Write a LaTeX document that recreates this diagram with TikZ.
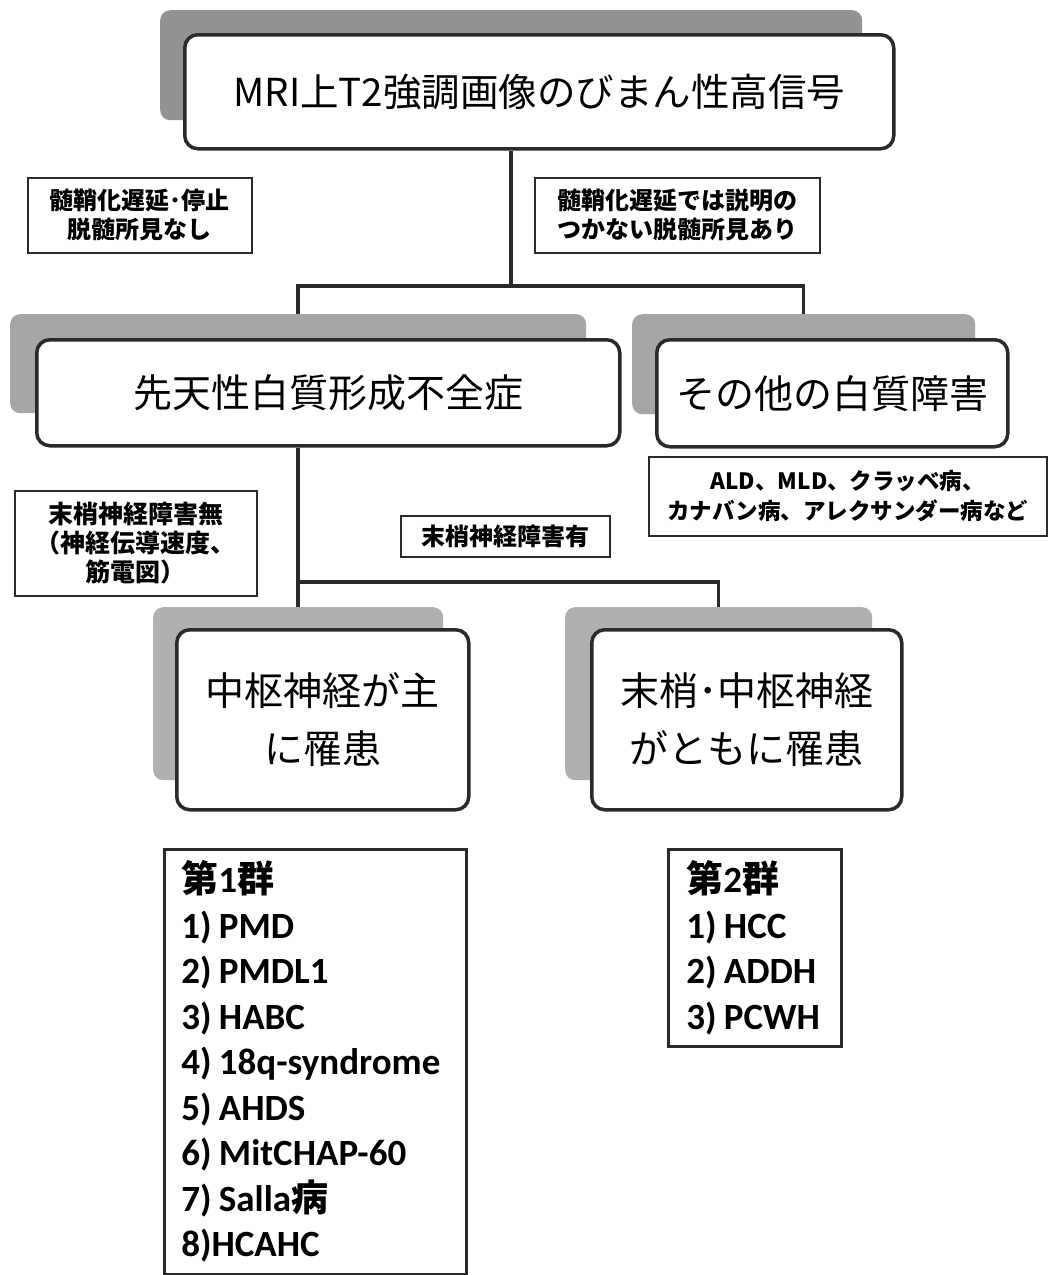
\documentclass[tikz,border=0pt]{standalone}
\usepackage{fontspec}
\setmainfont{Noto Sans CJK JP}
\newfontfamily\jpfont{Noto Sans CJK JP}
\newfontfamily\latfont{Carlito}
\definecolor{lc}{HTML}{2A2A2A}
\definecolor{shdA}{HTML}{939393}
\definecolor{shdB}{HTML}{A6A6A6}
\definecolor{shdC}{HTML}{B0B0B0}
\tikzset{
  shadowbox/.style={fill=#1, rounded corners=10pt, draw=none, anchor=north west, inner sep=0pt},
  mainbox/.style={draw=lc, line width=3.5pt, fill=white, rounded corners=13pt, anchor=north west, inner sep=0pt, align=center},
  labelbox/.style={draw=lc, line width=1.6pt, fill=white, anchor=north west, inner sep=0pt, align=center},
  listbox/.style={draw=lc, line width=2.5pt, fill=white, anchor=north west, inner ysep=0pt, align=left},
  conn/.style={draw=lc, line width=3.5pt},
  bigtext/.style={font=\jpfont\fontsize{39pt}{58pt}\selectfont},
  toptext/.style={font=\jpfont\fontsize{38.5pt}{46pt}\selectfont},
  lbltext/.style={font=\jpfont\bfseries\fontsize{24pt}{29pt}\selectfont},
  aldtext/.style={font=\jpfont\bfseries\fontsize{22.5pt}{30pt}\selectfont},
  listtext/.style={font=\latfont\bfseries\fontsize{37pt}{45.5pt}\selectfont},
}
\newcommand{\jb}[1]{{\jpfont\bfseries #1}}
\newcommand{\lsp}{\hspace{0.2em}}
\begin{document}
\begin{tikzpicture}[x=1pt,y=-1pt]
\useasboundingbox (0,0) rectangle (1048,1275);
\fill[white] (0,0) rectangle (1048,1275);

% top box
\node[shadowbox=shdA, minimum width=702pt, minimum height=110pt] (tops) at (160,10) {};
\node[mainbox, toptext, minimum width=709pt, minimum height=114pt] (top) at (183,33) {MRI上T2強調画像のびまん性高信号};

% labels under top
\node[labelbox, lbltext, minimum width=224pt, minimum height=75pt] (l1) at (27,177) {髄鞘化遅延･停止\\脱髄所見なし};
\node[labelbox, lbltext, minimum width=285pt, minimum height=75pt] (l2) at (534,177) {髄鞘化遅延では説明の\\つかない脱髄所見あり};

% second level
\node[shadowbox=shdB, minimum width=576pt, minimum height=99pt] (b2s) at (10,314) {};
\node[mainbox, bigtext, minimum width=583pt, minimum height=106pt] (b2) at (35,338) {先天性白質形成不全症};
\node[shadowbox=shdB, minimum width=343pt, minimum height=100pt] (b3s) at (632,314) {};
\node[mainbox, bigtext, minimum width=351pt, minimum height=107pt] (b3) at (655,338) {その他の白質障害};

\node[labelbox, aldtext, minimum width=398pt, minimum height=79pt] (ald) at (648,456) {ALD、MLD、クラッベ病、\\カナバン病、アレクサンダー病など};

% labels level 3
\node[labelbox, lbltext, font=\jpfont\bfseries\fontsize{25pt}{29pt}\selectfont, minimum width=242pt, minimum height=105pt] (l3) at (14,490) {末梢神経障害無\\（神経伝導速度、\\筋電図）};
\node[labelbox, lbltext, minimum width=209pt, minimum height=41pt] (l4) at (400,515) {末梢神経障害有};

% third level
\node[shadowbox=shdC, minimum width=290pt, minimum height=173pt] (b4s) at (153,607) {};
\node[mainbox, bigtext, minimum width=292pt, minimum height=180pt] (b4) at (175,628) {中枢神経が主\\に罹患};
\node[shadowbox=shdC, minimum width=307pt, minimum height=173pt] (b5s) at (565,607) {};
\node[mainbox, bigtext, minimum width=310pt, minimum height=180pt] (b5) at (590,628) {末梢･中枢神経\\がともに罹患};

% lists
\node[listbox, listtext, inner xsep=17pt, text width=268pt, minimum height=425pt] (g1) at (163,848)
 {\jb{第}1\jb{群}\\1)\lsp PMD\\2)\lsp PMDL1\\3)\lsp HABC\\4)\lsp 18q-syndrome\\5)\lsp AHDS\\6)\lsp MitCHAP-60\\7)\lsp Salla\jb{病}\\8)HCAHC};
\node[listbox, listtext, inner xsep=18pt, text width=137pt, minimum height=197pt] (g2) at (667,848)
 {\jb{第}2\jb{群}\\1)\lsp HCC\\2)\lsp ADDH\\3)\lsp PCWH};

% connectors
\coordinate (j1) at (511,286);
\coordinate (j2) at (298,582);
\draw[conn] (top.south -| j1) -- (j1);
\draw[conn] (b2s.north) |- (j1);
\draw[conn] (b3s.north) |- (j1);
\draw[conn] (b2.south -| j2) -- (j2);
\draw[conn] (b4s.north) |- (j2);
\draw[conn] (b5s.north) |- (j2);
\end{tikzpicture}
\end{document}
